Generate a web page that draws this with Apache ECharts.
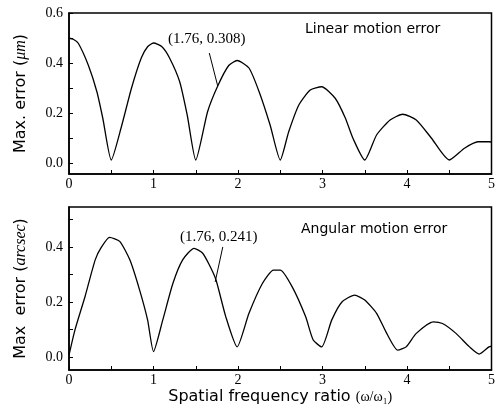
<!DOCTYPE html>
<html>
<head>
<meta charset="utf-8">
<title>Motion error</title>
<script src="https://cdn.jsdelivr.net/npm/echarts@6/dist/echarts.min.js"></script>
<style>
  html, body { margin: 0; padding: 0; background: #fff; }
  #chart { width: 498px; height: 417px; }
</style>
</head>
<body>
<div id="chart"></div>
<script>
// values
var linearX = [0, 0.05, 0.11, 0.23, 0.33, 0.40, 0.50, 0.62, 0.74, 0.855, 0.93, 1.0, 1.10, 1.19, 1.31, 1.40, 1.50,
  1.64, 1.76, 1.89, 1.99, 2.13, 2.25, 2.38, 2.50, 2.60, 2.72, 2.855, 2.99, 3.15, 3.27, 3.36, 3.50,
  3.64, 3.80, 3.95, 4.11, 4.29, 4.50, 4.68, 4.84, 4.97, 5.0];
var linearY = [0.499, 0.495, 0.479, 0.39, 0.285, 0.179, 0.012, 0.145, 0.30, 0.42, 0.465, 0.48, 0.465, 0.42, 0.325, 0.19, 0.012,
  0.205, 0.308, 0.39, 0.41, 0.38, 0.285, 0.152, 0.012, 0.125, 0.232, 0.292, 0.305, 0.259, 0.18, 0.099, 0.012,
  0.112, 0.172, 0.195, 0.172, 0.099, 0.012, 0.059, 0.085, 0.085, 0.084];

var angularX = [0, 0.07, 0.19, 0.31, 0.385, 0.48, 0.60, 0.72, 0.835, 0.93, 1.0, 1.11, 1.23, 1.345, 1.48, 1.58,
  1.66, 1.74, 1.855, 1.99, 2.13, 2.29, 2.42, 2.50, 2.64, 2.80, 2.89, 2.99, 3.11, 3.23, 3.38, 3.50,
  3.64, 3.76, 3.89, 3.99, 4.11, 4.31, 4.42, 4.58, 4.74, 4.855, 4.97, 5.0];
var angularY = [0.007, 0.098, 0.22, 0.353, 0.40, 0.435, 0.42, 0.353, 0.244, 0.135, 0.02, 0.135, 0.268, 0.353, 0.395, 0.378,
  0.335, 0.28, 0.147, 0.037, 0.159, 0.268, 0.316, 0.316, 0.256, 0.147, 0.062, 0.037, 0.135, 0.20, 0.225, 0.207,
  0.159, 0.086, 0.025, 0.037, 0.086, 0.128, 0.122, 0.086, 0.037, 0.011, 0.037, 0.04];

var xTicks = [0, 0.5, 1, 1.5, 2, 2.5, 3, 3.5, 4, 4.5, 5];
var topYLabels = [0, 0.2, 0.4, 0.6];
var topYTicks = [0, 0.1, 0.2, 0.3, 0.4, 0.5, 0.6];
var botYLabels = [0, 0.2, 0.4];
var botYTicks = [0, 0.1, 0.2, 0.3, 0.4, 0.5];

// leader lines of the two callouts [from, to]
var linearCallout = [[1.66, 0.44], [1.76, 0.308]];
var angularCallout = [[1.82, 0.40], [1.73, 0.273]];

function pairs(xs, ys) {
  return xs.map(function (x, i) { return [x, ys[i]]; });
}

var serif = 'Liberation Serif';
var sans = 'DejaVu Sans';

function xAxisOf(gridIndex, withName) {
  var ax = {
    type: 'value',
    gridIndex: gridIndex,
    min: 0,
    max: 5,
    interval: 1,
    axisLine: { onZero: false, lineStyle: { color: '#000', width: 1.5 } },
    axisTick: { inside: true, length: 4, customValues: xTicks, lineStyle: { color: '#000' } },
    axisLabel: { color: '#000', fontFamily: serif, fontSize: 14, margin: 3 },
    splitLine: { show: false }
  };
  if (withName) {
    ax.name = '{a|Spatial frequency ratio }{b|(ω/ω₁)}';
    ax.nameLocation = 'middle';
    ax.nameGap = 19;
    ax.nameTextStyle = {
      rich: {
        a: { fontFamily: sans, fontSize: 16, color: '#000' },
        b: { fontFamily: serif, fontSize: 14, color: '#000' }
      }
    };
  }
  return ax;
}

function yAxisOf(gridIndex, min, max, labels, ticks, unit) {
  return {
    type: 'value',
    gridIndex: gridIndex,
    min: min,
    max: max,
    axisLine: { onZero: false, lineStyle: { color: '#000', width: 1.5 } },
    axisTick: { inside: true, length: 4, customValues: ticks, lineStyle: { color: '#000' } },
    axisLabel: {
      customValues: labels,
      color: '#000', fontFamily: serif, fontSize: 14, margin: 6,
      formatter: function (v) { return v.toFixed(1); }
    },
    splitLine: { show: false },
    name: unit,
    nameLocation: 'middle',
    nameGap: 40,
    nameTextStyle: {
      rich: {
        a: { fontFamily: sans, fontSize: 16, color: '#000' },
        i: { fontFamily: serif, fontStyle: 'italic', fontSize: 16, color: '#000' }
      }
    }
  };
}

function callout(points) {
  return {
    silent: true,
    symbol: 'none',
    label: { show: false },
    lineStyle: { color: '#000', width: 1, type: 'solid' },
    data: [[{ coord: points[0] }, { coord: points[1] }]]
  };
}

var chart = echarts.init(document.getElementById('chart'));
chart.setOption({
  animation: false,
  backgroundColor: '#fff',
  grid: [
    { left: 69, top: 13, width: 425, height: 161, show: true, borderColor: '#000', borderWidth: 1.5 },
    { left: 69, top: 207, width: 425, height: 163, show: true, borderColor: '#000', borderWidth: 1.5 }
  ],
  title: [
    { text: '(1.76, 0.308)', left: 163, top: 27, textStyle: { fontFamily: serif, fontSize: 15, fontWeight: 'normal', color: '#000' } },
    { text: 'Linear motion error', left: 300, top: 17, textStyle: { fontFamily: sans, fontSize: 14, fontWeight: 'normal', color: '#000' } },
    { text: '(1.76, 0.241)', left: 175, top: 225, textStyle: { fontFamily: serif, fontSize: 15, fontWeight: 'normal', color: '#000' } },
    { text: 'Angular motion error', left: 296, top: 217, textStyle: { fontFamily: sans, fontSize: 14, fontWeight: 'normal', color: '#000' } }
  ],
  xAxis: [xAxisOf(0, false), xAxisOf(1, true)],
  yAxis: [
    yAxisOf(0, -0.044, 0.6, topYLabels, topYTicks, '{a|Max. error (}{i|μm}{a|)}'),
    yAxisOf(1, -0.047, 0.545, botYLabels, botYTicks, '{a|Max  error (}{i|arcsec}{a|)}')
  ],
  series: [
    {
      type: 'line', xAxisIndex: 0, yAxisIndex: 0,
      data: pairs(linearX, linearY),
      showSymbol: false,
      smooth: 0.2,
      lineStyle: { color: '#000', width: 1.3 },
      markLine: callout(linearCallout)
    },
    {
      type: 'line', xAxisIndex: 1, yAxisIndex: 1,
      data: pairs(angularX, angularY),
      showSymbol: false,
      smooth: 0.2,
      lineStyle: { color: '#000', width: 1.3 },
      markLine: callout(angularCallout)
    }
  ]
});
</script>
</body>
</html>
